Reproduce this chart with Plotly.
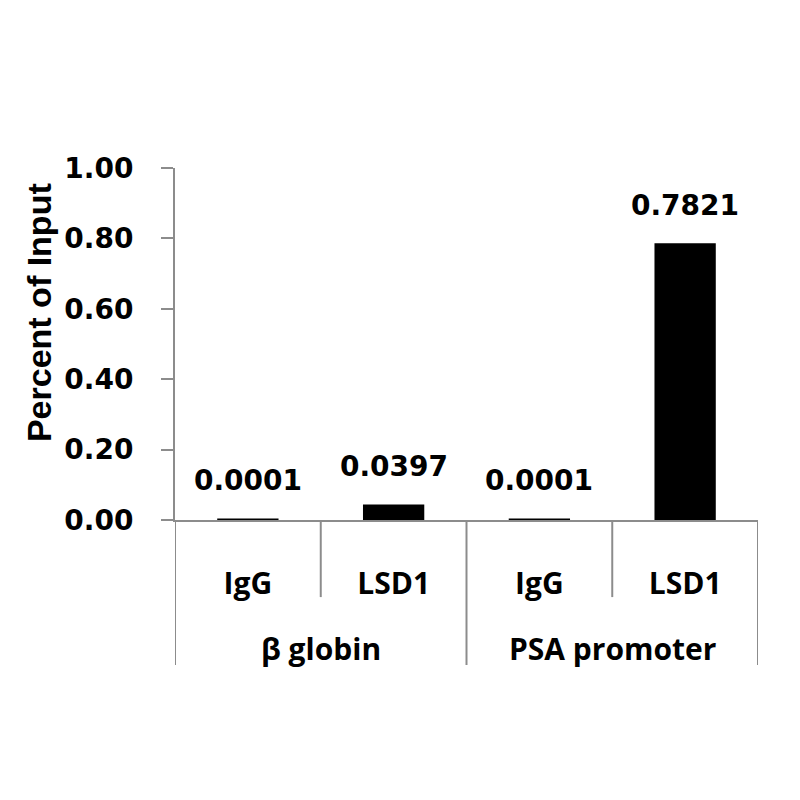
import plotly.graph_objects as go

groups = ["β globin", "β globin", "PSA promoter", "PSA promoter"]
subcats = ["IgG", "LSD1", "IgG", "LSD1"]
values = [0.0001, 0.0397, 0.0001, 0.7821]
value_labels = ["0.0001", "0.0397", "0.0001", "0.7821"]
y_ticks = [0.0, 0.2, 0.4, 0.6, 0.8, 1.0]
y_title = "Percent of Input"

ids = [f"{g}|{s}" for g, s in zip(groups, subcats)]
AX = "#8c8c8c"

fig = go.Figure()
fig.add_trace(go.Bar(
    x=ids, y=values, width=0.4,
    marker=dict(color="black", line=dict(color="black", width=3)),
    hoverinfo="skip",
))

# value labels above bars
for i, v, t in zip(ids, values, value_labels):
    fig.add_annotation(x=i, y=v, xref="x", yref="y", text=t, showarrow=False,
                       yanchor="bottom", yshift=21,
                       font=dict(family="DejaVu Sans", size=28, color="black", weight="bold"))

# group labels and dividers
uniq = []
for g in groups:
    if g not in uniq:
        uniq.append(g)
bounds = [-0.5]
for g in uniq:
    idx = [k for k, gg in enumerate(groups) if gg == g]
    bounds.append(idx[-1] + 0.5)
    center = (idx[0] + idx[-1]) / 2
    fig.add_annotation(x=center, y=0, xref="x", yref="paper", text=g, showarrow=False,
                       yanchor="middle", yshift=-128,
                       font=dict(family="Open Sans", size=30, color="black", weight="bold"))
for b in bounds:
    fig.add_shape(type="line", xref="x", yref="paper", x0=b, x1=b, y0=0, y1=-0.412,
                  line=dict(color=AX, width=2))
for k in range(len(ids) - 1):
    if groups[k] == groups[k + 1]:
        fig.add_shape(type="line", xref="x", yref="paper", x0=k + 0.5, x1=k + 0.5,
                      y0=0, y1=-0.219, line=dict(color=AX, width=2))

# y axis title
fig.add_annotation(x=-0.232, y=0.59, xref="paper", yref="paper", text=y_title,
                   showarrow=False, textangle=-90, xanchor="center", yanchor="middle",
                   font=dict(family="Liberation Sans", size=34, color="black", weight="bold"))

fig.update_layout(
    width=800, height=800,
    paper_bgcolor="white", plot_bgcolor="white",
    margin=dict(l=167, r=50, t=160, b=288),
    showlegend=False,
    bargap=0.6,
)
fig.update_xaxes(
    type="category", categoryorder="array", categoryarray=ids,
    tickvals=ids, ticktext=subcats, ticks="", showline=True, linecolor=AX, linewidth=2,
    ticklabelstandoff=36, showgrid=False, zeroline=False,
    tickfont=dict(family="Open Sans", size=30, color="black", weight="bold"),
    range=[-0.5, len(ids) - 0.5],
)
fig.update_yaxes(
    range=[0, 1], tickvals=y_ticks, tickformat=".2f", ticks="outside", ticklen=12,
    tickwidth=2, tickcolor=AX, showline=True, linecolor=AX, linewidth=2,
    showgrid=False, zeroline=False, ticklabelstandoff=22,
    tickfont=dict(family="DejaVu Sans", size=28, color="black", weight="bold"),
)
fig.write_html("out.html")
